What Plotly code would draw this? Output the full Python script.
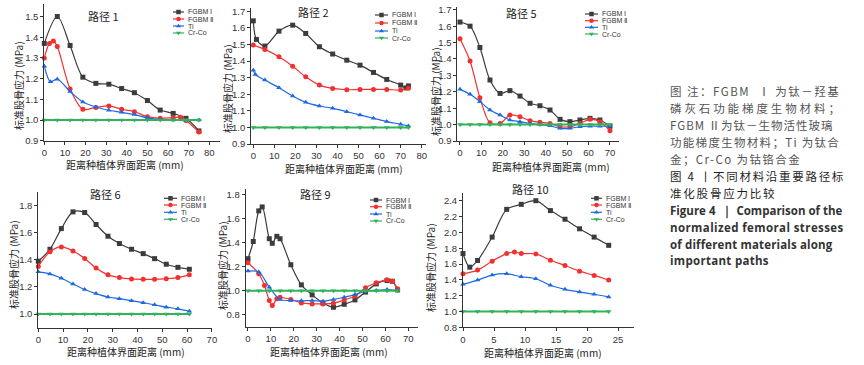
import plotly.graph_objects as go

W, H = 864, 365

SERIES = ["FGBM Ⅰ", "FGBM Ⅱ", "Ti", "Cr-Co"]
PANEL_TITLES = ["路径 1", "路径 2", "路径 5", "路径 6", "路径 9", "路径 10"]
X_TITLE = "距离种植体界面距离 (mm)"
Y_TITLE = "标准股骨应力 (MPa)"

# ---------------- data ----------------
# 路径 1
p1_fg1_x = [0, 6.3, 12.5, 18.7, 25, 31.3, 37.5, 43.7, 50, 56.2, 62.5, 68.7, 75]
p1_fg1_y = [1.37, 1.50, 1.36, 1.207, 1.177, 1.173, 1.152, 1.132, 1.094, 1.048, 1.032, 1.008, 0.947]
p1_fg2_x = [0, 2.5, 4.4, 6.3, 12.5, 18.7, 25, 31.3, 37.5, 43.7, 50, 56.2, 62.5, 66.0, 68.7, 75]
p1_fg2_y = [1.30, 1.37, 1.382, 1.355, 1.15, 1.052, 1.061, 1.068, 1.052, 1.04, 1.016, 1.008, 1.011, 1.013, 0.998, 0.942]
p1_ti_x = [0, 3, 6.3, 12.5, 18.7, 25, 31.3, 37.5, 43.7, 50, 56.2, 62.5, 68.7, 75]
p1_ti_y = [1.26, 1.185, 1.197, 1.138, 1.087, 1.063, 1.047, 1.037, 1.026, 1.01, 1.002, 1.0, 0.998, 1.0]
p1_cr_x = [0, 6.3, 12.5, 18.7, 25, 31.3, 37.5, 43.7, 50, 56.2, 62.5, 68.7, 75]
p1_cr_y = [1.0, 1.0, 1.0, 1.0, 1.0, 1.0, 1.0, 1.0, 1.0, 1.0, 1.0, 1.0, 1.0]

# 路径 2
p2_fg1_x = [0, 1.5, 5.5, 12.2, 18.7, 24.9, 31.4, 37.7, 44.4, 50.7, 57.1, 63.4, 70.0, 72.5, 73.7]
p2_fg1_y = [1.642, 1.53, 1.49, 1.58, 1.616, 1.566, 1.486, 1.442, 1.405, 1.375, 1.331, 1.289, 1.255, 1.238, 1.25]
p2_fg2_x = [0, 5.5, 12.2, 18.7, 24.9, 31.4, 37.7, 44.4, 50.7, 57.1, 63.4, 70.0, 73.7]
p2_fg2_y = [1.496, 1.47, 1.425, 1.369, 1.305, 1.255, 1.235, 1.227, 1.229, 1.229, 1.229, 1.225, 1.236]
p2_ti_x = [0, 1.0, 5.5, 12.2, 18.7, 24.9, 31.4, 37.7, 44.4, 50.7, 57.1, 63.4, 70.0, 73.7]
p2_ti_y = [1.345, 1.318, 1.285, 1.239, 1.189, 1.151, 1.129, 1.115, 1.095, 1.075, 1.055, 1.035, 1.019, 1.009]
p2_cr_x = [0, 5.5, 12.2, 18.7, 24.9, 31.4, 37.7, 44.4, 50.7, 57.1, 63.4, 70.0, 73.7]
p2_cr_y = [1.0, 1.0, 1.0, 1.0, 1.0, 1.0, 1.0, 1.0, 1.0, 1.0, 1.0, 1.0, 1.0]

# 路径 5
p3_x = [0, 4.7, 9.3, 14.0, 18.7, 23.3, 28.0, 32.7, 37.3, 42.0, 46.7, 51.3, 56.0, 60.7, 65.3, 70.0]
p3_fg1_y = [1.625, 1.60, 1.47, 1.272, 1.19, 1.207, 1.174, 1.13, 1.115, 1.089, 1.032, 1.018, 1.028, 1.038, 1.028, 0.99]
p3_fg2_y = [1.523, 1.388, 1.164, 1.011, 1.007, 1.058, 1.048, 1.024, 1.014, 1.007, 0.987, 0.987, 1.007, 1.032, 1.018, 0.963]
p3_ti_y = [1.215, 1.185, 1.14, 1.089, 1.058, 1.028, 1.018, 1.007, 1.0, 0.993, 0.977, 0.977, 0.987, 0.99, 0.99, 0.99]
p3_cr_y = [1.0, 1.0, 1.0, 1.0, 1.0, 1.0, 1.0, 1.0, 1.0, 1.0, 1.0, 1.0, 1.0, 1.0, 1.0, 1.0]

# 路径 6
p4_x = [0, 4.7, 9.3, 14.0, 18.7, 23.3, 28.1, 32.7, 37.6, 42.3, 46.9, 51.6, 56.3, 60.9]
p4_fg1_y = [1.388, 1.476, 1.628, 1.751, 1.746, 1.658, 1.572, 1.518, 1.476, 1.444, 1.407, 1.366, 1.343, 1.329]
p4_fg2_y = [1.35, 1.458, 1.493, 1.463, 1.408, 1.338, 1.288, 1.268, 1.258, 1.255, 1.255, 1.26, 1.268, 1.288]
p4_ti_y = [1.31, 1.295, 1.263, 1.22, 1.18, 1.15, 1.125, 1.113, 1.098, 1.083, 1.068, 1.05, 1.038, 1.02]
p4_cr_y = [1.0, 1.0, 1.0, 1.0, 1.0, 1.0, 1.0, 1.0, 1.0, 1.0, 1.0, 1.0, 1.0, 1.0]

# 路径 9
p5_fg1_x = [0, 2.3, 4.7, 6.2, 9.3, 10.6, 12.6, 14.0, 18.7, 23.3, 28.0, 32.7, 37.3, 42.0, 46.7, 51.3, 56.0, 60.7, 63.0, 65.3]
p5_fg1_y = [1.267, 1.41, 1.664, 1.697, 1.433, 1.395, 1.453, 1.433, 1.217, 1.05, 0.967, 0.90, 0.864, 0.889, 0.925, 0.99, 1.058, 1.086, 1.08, 1.008]
p5_fg2_x = [0, 4.7, 7.2, 9.3, 10.6, 12.6, 14.0, 18.7, 23.3, 28.0, 32.7, 37.3, 42.0, 46.7, 51.3, 56.0, 60.7, 63.0, 65.3]
p5_fg2_y = [1.233, 1.142, 1.044, 0.92, 0.878, 0.935, 0.947, 0.928, 0.90, 0.892, 0.892, 0.897, 0.925, 0.956, 1.025, 1.067, 1.092, 1.08, 1.017]
p5_x = [0, 4.7, 9.3, 14.0, 18.7, 23.3, 28.0, 32.7, 37.3, 42.0, 46.7, 51.3, 56.0, 60.7, 65.3]
p5_ti_y = [1.164, 1.156, 1.031, 0.928, 0.92, 0.917, 0.92, 0.914, 0.928, 0.947, 0.969, 0.997, 1.003, 1.011, 1.003]
p5_cr_y = [1.0, 1.0, 1.0, 1.0, 1.0, 1.0, 1.0, 1.0, 1.0, 1.0, 1.0, 1.0, 1.0, 1.0, 1.0]

# 路径 10
p6_fg1_x = [0, 1.1, 2.35, 4.7, 7.05, 9.4, 11.75, 14.1, 16.45, 18.8, 21.15, 23.5]
p6_fg1_y = [1.732, 1.56, 1.644, 1.94, 2.291, 2.354, 2.4, 2.275, 2.166, 2.045, 1.94, 1.836]
p6_fg2_x = [0, 2.35, 4.7, 7.05, 8.3, 9.4, 11.75, 14.1, 16.45, 18.8, 21.15, 23.5]
p6_fg2_y = [1.477, 1.523, 1.636, 1.732, 1.752, 1.732, 1.728, 1.648, 1.581, 1.51, 1.456, 1.397]
p6_x = [0, 2.35, 4.7, 7.05, 9.4, 11.75, 14.1, 16.45, 18.8, 21.15, 23.5]
p6_ti_y = [1.343, 1.397, 1.46, 1.477, 1.439, 1.414, 1.331, 1.28, 1.247, 1.218, 1.184]
p6_cr_y = [1.0, 1.0, 1.0, 1.0, 1.0, 1.0, 1.0, 1.0, 1.0, 1.0, 1.0]

NOTE_LINES = [
    "图 注：FGBM  Ⅰ 为钛－羟基",
    "磷灰石功能梯度生物材料；",
    "FGBM Ⅱ为钛－生物活性玻璃",
    "功能梯度生物材料；Ti 为钛合",
    "金；Cr-Co 为钴铬合金",
]
CAPTION_CN = ["图 4 丨不同材料沿重要路径标", "准化股骨应力比较"]
CAPTION_EN = ["Figure 4  ｜ Comparison of the", "normalized femoral stresses",
              "of different materials along", "important paths"]

# ---------------- style ----------------
COLORS = ["#3c3c3c", "#f2302f", "#1f6ae0", "#31b25c"]
SYMBOLS = ["square", "circle", "triangle-up", "triangle-down"]
LW = [1.2, 1.2, 1.2, 2.0]
TICK_FONT = dict(family="Liberation Sans, Arial", size=9.5, color="#333")
CJK = "Noto Sans CJK SC"

panels = [
    dict(series=[(p1_fg1_x, p1_fg1_y), (p1_fg2_x, p1_fg2_y), (p1_ti_x, p1_ti_y), (p1_cr_x, p1_cr_y)],
         xr=[0, 85], xpx=[44.3, 219.6], yr=[0.9, 1.56], ypx=[140.7, 4.1], xd=10, y0=0.9, yd=0.1,
         title=(103, 16), xt=(125, 164.5), yt=(18, 86), leg=(173, 184, 187, [12, 19, 26, 33])),
    dict(series=[(p2_fg1_x, p2_fg1_y), (p2_fg2_x, p2_fg2_y), (p2_ti_x, p2_ti_y), (p2_cr_x, p2_cr_y)],
         xr=[-1, 82], xpx=[251.2, 425.9], yr=[0.9, 1.72], ypx=[144, 7.9], xd=10, y0=0.9, yd=0.1,
         title=(313, 12), xt=(344, 168.5), yt=(227, 88), leg=(375, 388, 391, [15, 23, 31, 38])),
    dict(series=[(p3_x, p3_fg1_y), (p3_x, p3_fg2_y), (p3_x, p3_ti_y), (p3_x, p3_cr_y)],
         xr=[-1.2, 74.3], xpx=[457.4, 619.2], yr=[0.9, 1.72], ypx=[141, 6.5], xd=10, y0=0.9, yd=0.1,
         title=(521, 12.5), xt=(551, 166.5), yt=(435, 92), leg=(585, 598, 601, [14, 20.7, 27.3, 34])),
    dict(series=[(p4_x, p4_fg1_y), (p4_x, p4_fg2_y), (p4_x, p4_ti_y), (p4_x, p4_cr_y)],
         xr=[0, 70], xpx=[38.3, 211.9], yr=[0.9, 1.9], ypx=[327.6, 191.6], xd=10, y0=1.0, yd=0.2,
         title=(105, 194), xt=(125.5, 351), yt=(13, 265), leg=(164, 177, 180, [198.3, 205, 212.3, 219.3])),
    dict(series=[(p5_fg1_x, p5_fg1_y), (p5_fg2_x, p5_fg2_y), (p5_x, p5_ti_y), (p5_x, p5_cr_y)],
         xr=[-1, 74], xpx=[245.7, 417.5], yr=[0.7, 1.85], ypx=[327, 188.5], xd=10, y0=0.8, yd=0.2,
         title=(315, 194), xt=(329, 351), yt=(222, 265), leg=(370, 382, 385, [200, 206.7, 214, 221])),
    dict(series=[(p6_fg1_x, p6_fg1_y), (p6_fg2_x, p6_fg2_y), (p6_x, p6_ti_y), (p6_x, p6_cr_y)],
         xr=[0, 27.5], xpx=[463, 633.5], yr=[0.8, 2.5], ypx=[327.3, 192.8], xd=5, y0=0.8, yd=0.2,
         title=(530, 188.5), xt=(542.5, 352.5), yt=(430, 268), leg=(591, 602, 605, [198.3, 205, 212.3, 219.3])),
]


def PX(x):
    return x / W


def PY(y):
    return 1 - y / H


fig = go.Figure()
layout = dict(width=W, height=H, margin=dict(l=0, r=0, t=0, b=0),
              paper_bgcolor="white", plot_bgcolor="rgba(0,0,0,0)",
              showlegend=False, template="none")
annotations = []

for i, p in enumerate(panels):
    n = i + 1
    xa = "x" if n == 1 else f"x{n}"
    ya = "y" if n == 1 else f"y{n}"
    for k, (xs, ys) in enumerate(p["series"]):
        fig.add_trace(go.Scatter(
            x=xs, y=ys, xaxis=xa, yaxis=ya, mode="lines+markers", name=SERIES[k],
            line=dict(color=COLORS[k], width=LW[k], shape="spline", smoothing=0.9),
            marker=dict(symbol=SYMBOLS[k], size=5, color=COLORS[k], line=dict(width=0)),
            cliponaxis=False, hoverinfo="skip"))
    axstyle = dict(showgrid=False, zeroline=False, showline=True, linecolor="#333", linewidth=1,
                   ticks="outside", ticklen=3, tickcolor="#333", tickfont=TICK_FONT, mirror=False)
    layout["xaxis" if n == 1 else f"xaxis{n}"] = dict(
        domain=[PX(p["xpx"][0]), PX(p["xpx"][1])], range=p["xr"], anchor=ya,
        tick0=0, dtick=p["xd"], **axstyle)
    layout["yaxis" if n == 1 else f"yaxis{n}"] = dict(
        domain=[PY(p["ypx"][0]), PY(p["ypx"][1])], range=p["yr"], anchor=xa,
        tick0=p["y0"], dtick=p["yd"], tickformat=".1f", **axstyle)
    # titles
    annotations.append(dict(text=PANEL_TITLES[i], x=PX(p["title"][0]), y=PY(p["title"][1]),
                            xref="paper", yref="paper", showarrow=False, xanchor="center", yanchor="middle",
                            font=dict(family=CJK, size=11, color="#222")))
    annotations.append(dict(text=X_TITLE, x=PX(p["xt"][0]), y=PY(p["xt"][1]),
                            xref="paper", yref="paper", showarrow=False, xanchor="center", yanchor="middle",
                            borderpad=0, font=dict(family=CJK, size=10, color="#222")))
    annotations.append(dict(text=Y_TITLE, x=PX(p["yt"][0]), y=PY(p["yt"][1]), textangle=-90,
                            xref="paper", yref="paper", showarrow=False, xanchor="center", yanchor="middle",
                            borderpad=0, font=dict(family=CJK, size=10, color="#222")))
    # legend text
    lx0, lx1, tx, rows = p["leg"]
    for k in range(4):
        annotations.append(dict(text=SERIES[k], x=PX(tx), y=PY(rows[k]), xref="paper", yref="paper",
                                showarrow=False, xanchor="left", yanchor="middle", borderpad=0,
                                font=dict(family="Liberation Sans, Arial", size=7, color="#333")))

# legend samples on a pixel canvas axis
for k in range(4):
    lxs, lys, mxs, mys = [], [], [], []
    for p in panels:
        lx0, lx1, tx, rows = p["leg"]
        lxs += [lx0, lx1, None]
        lys += [rows[k], rows[k], None]
        mxs.append((lx0 + lx1) / 2)
        mys.append(rows[k])
    fig.add_trace(go.Scatter(x=lxs, y=lys, xaxis="x7", yaxis="y7", mode="lines",
                             line=dict(color=COLORS[k], width=1.2), hoverinfo="skip", cliponaxis=False))
    fig.add_trace(go.Scatter(x=mxs, y=mys, xaxis="x7", yaxis="y7", mode="markers",
                             marker=dict(symbol=SYMBOLS[k], size=4.5, color=COLORS[k]),
                             hoverinfo="skip", cliponaxis=False))
layout["xaxis7"] = dict(domain=[0, 1], range=[0, W], visible=False, anchor="y7", fixedrange=True)
layout["yaxis7"] = dict(domain=[0, 1], range=[H, 0], visible=False, anchor="x7", fixedrange=True)

# right-hand caption block
TX = 669
note_y = [91, 108, 125, 142, 159]
note_sp = [1.5, 2.9, 1.0, 1.3, 1.4]
for j, t in enumerate(NOTE_LINES):
    annotations.append(dict(text=f'<span style="letter-spacing:{note_sp[j]}px">{t}</span>',
                            x=PX(TX), y=PY(note_y[j]), xref="paper", yref="paper", showarrow=False,
                            xanchor="left", yanchor="middle", borderpad=0,
                            font=dict(family=CJK, size=11.5, color="#555")))
cap_y = [176, 193]
cap_sp = [1.7, 1.8]
for j, t in enumerate(CAPTION_CN):
    annotations.append(dict(text=f'<span style="letter-spacing:{cap_sp[j]}px">{t}</span>',
                            x=PX(TX), y=PY(cap_y[j]), xref="paper", yref="paper", showarrow=False,
                            xanchor="left", yanchor="middle", borderpad=0,
                            font=dict(family=CJK, size=11.5, color="#1e1e1e")))
en_y = [211, 227.5, 244, 260.5]
en_sp = [0.0, 0.4, 0.15, 0.3]
for j, t in enumerate(CAPTION_EN):
    annotations.append(dict(text=f'<span style="letter-spacing:{en_sp[j]}px"><b>{t}</b></span>',
                            x=PX(TX), y=PY(en_y[j]), xref="paper", yref="paper", showarrow=False,
                            xanchor="left", yanchor="middle", borderpad=0,
                            font=dict(family="Open Sans", size=11.5, color="#333")))

layout["annotations"] = annotations
fig.update_layout(**layout)
fig.write_html("out.html", config={"displayModeBar": False, "staticPlot": True},
               post_script="document.body.style.margin='0px';document.body.style.padding='0px';")
